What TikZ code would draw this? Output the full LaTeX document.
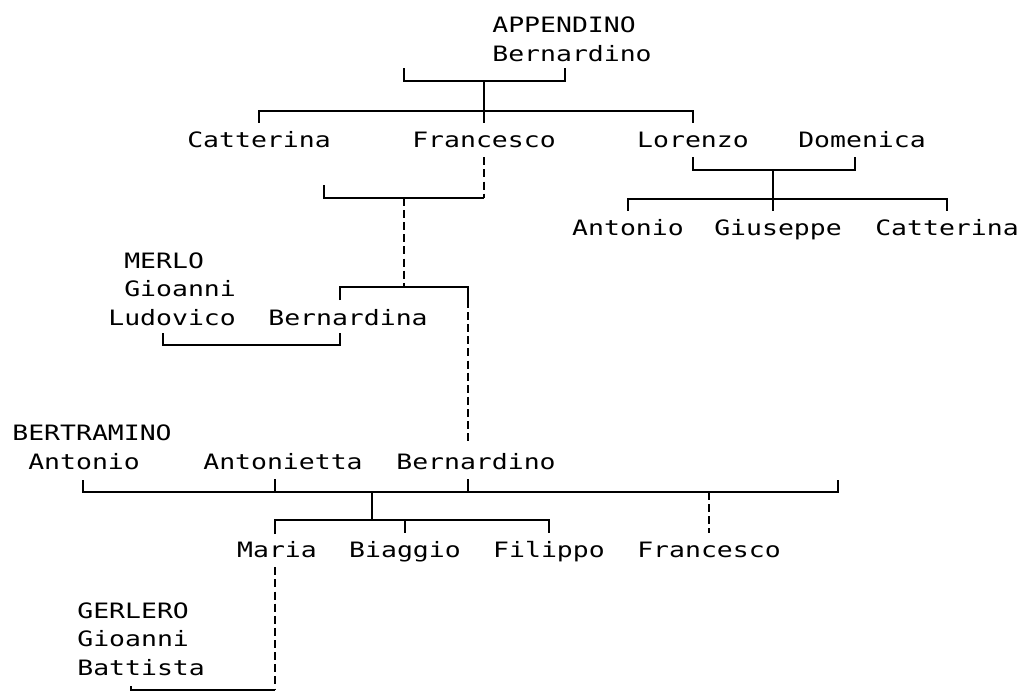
\documentclass[tikz,border=0pt]{standalone}
\usepackage{fontspec}
\newfontfamily\treefont[FakeStretch=1.25]{DejaVu Sans Mono}
\tikzset{
  person/.style={inner sep=0pt, anchor=base, text height=13.6pt, text depth=5.7pt},
  house/.style={inner sep=0pt, anchor=base west, align=left},
  link/.style={line width=1.1pt},
  kin/.style={line width=1.1pt, dash pattern=on 4.5pt off 2.4pt},
}
\begin{document}
\begin{tikzpicture}[x=0.02cm, y=-0.02cm, font=\treefont\fontsize{12.05pt}{16pt}\selectfont]
\useasboundingbox (0,0) rectangle (1025,700);
% Appendino
\node[house] (app) at (492,61) {APPENDINO\\Bernardino};
\node[person] (cat1) at (259,147) {Catterina};
\node[person] (fra1) at (484,147) {Francesco};
\node[person] (lor) at (693,147) {Lorenzo};
\node[person] (dom) at (862,147) {Domenica};
\node[person] (ant1) at (628,235) {Antonio};
\node[person] (giu) at (778,235) {Giuseppe};
\node[person] (cat2) at (947,235) {Catterina};
% Merlo
\node[house] (merlo) at (108,325) {\phantom{M}MERLO\\\phantom{M}Gioanni\\Ludovico};
\node[person] (berna) at (348,325) {Bernardina};
% Bertramino
\node[house] (bert) at (12,469) {BERTRAMINO\\\phantom{M}Antonio};
\node[person] (antta) at (283,469) {Antonietta};
\node[person] (bern2) at (476,469) {Bernardino};
\node[person] (mar) at (277,557) {Maria};
\node[person] (bia) at (405,557) {Biaggio};
\node[person] (fil) at (549,557) {Filippo};
\node[person] (fra2) at (709,557) {Francesco};
% Gerlero
\node[house] (ger) at (77,675) {GERLERO\\Gioanni\\Battista};

% Appendino couple and children
\coordinate (appL) at (404,68);
\coordinate (appR) at (565,68);
\coordinate (appM) at (484,81);
\draw[link] (appL) |- (appM) -| (appR);
\draw[link] (appM) -- (fra1.north);
\draw[link] (cat1.north) -- ++(0,-12) -| (lor.north);

% Francesco
\coordinate (fraL) at (324,185);
\coordinate (fraM) at (404,198);
\coordinate (fraK) at (404,287);
\coordinate (bnaT) at (340,300);
\coordinate (bnoT) at (468,300);
\draw[kin] (fra1.south) -- (fra1.south |- fraM);
\draw[link] (fra1.south |- fraM) -| (fraL);
\draw[kin] (fraM) -- (fraK);
\draw[link] (bnaT) |- (fraK) -| (bnoT);
\draw[kin] (bnoT) -- (bern2.north -| bnoT);

% Merlo marriage
\coordinate (ludB) at (163,333);
\draw[link] (ludB) -- ++(0,12) -| (bnaT |- ludB);

% Lorenzo and Domenica
\coordinate (domT) at (855,157);
\coordinate (lorM) at (773,170);
\draw[link] (lor.south) |- (lorM) -| (domT);
\draw[link] (lorM) -- (giu.north -| lorM);
\draw[link] (ant1.north) -- ++(0,-12) -| (cat2.north);

% Bertramino
\coordinate (bertL) at (83,480);
\coordinate (bertR) at (838,480);
\coordinate (bertM) at (372,492);
\coordinate (marT) at (275,534);
\draw[link] (bertL) |- (bertM) -| (bertR);
\draw[link] (marT |- antta.south) -- (marT |- bertM);
\draw[link] (bnoT |- bern2.south) -- (bnoT |- bertM);
\draw[kin] (fra2.north |- bertM) -- (fra2.north);
\draw[link] (bertM) -- ++(0,28) coordinate (kidsM);
\draw[link] (marT) |- (kidsM) -| (fil.north);
\draw[link] (bia.north) -- (bia.north |- kidsM);

% Gerlero
\coordinate (gerB) at (131,686);
\coordinate (gerM) at (275,690);
\draw[kin] (mar.south -| marT) -- (gerM);
\draw[link] (gerM) -| (gerB);
\end{tikzpicture}
\end{document}
